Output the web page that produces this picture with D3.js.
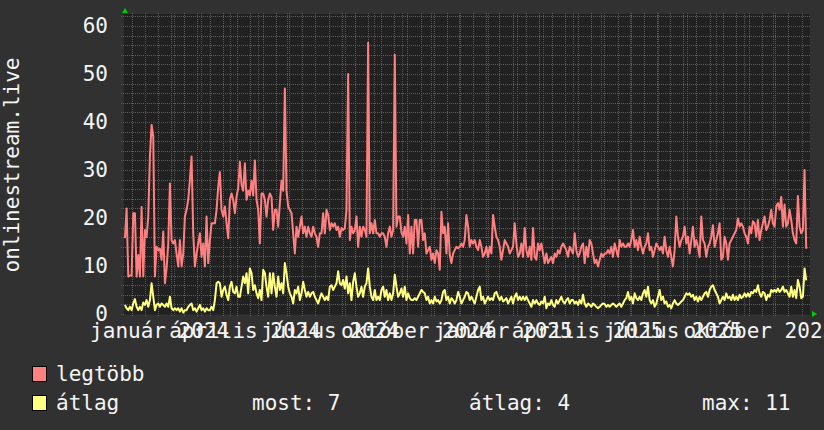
<!DOCTYPE html>
<meta charset="utf-8">
<style>
body { margin: 0; background: #313131; }
svg text { font-family: "DejaVu Sans Mono", monospace; fill: #f4f4f4; font-size: 21px; }
</style>
<body>
<script src="https://cdn.jsdelivr.net/npm/d3@7"></script>
<script>

var seriesNames = ["legtöbb", "átlag"];
var seriesColors = ["#ff8080", "#ffff80"];

// legtöbb (max), one value per step
var legtobb = [
  15.8, 22, 7.8, 8, 8, 21, 21, 7.8, 12.3, 7.8, 22.3, 7.8, 17.5, 16, 20.3, 32.8, 39.4, 37, 7.8,
  14, 13.3, 13.6, 11.3, 17.2, 6.4, 9.5, 14.6, 27.2, 15.4, 14.7, 15.4, 12.6, 9.9, 15.4, 9.9, 12.6, 20.3,
  21.7, 23.8, 27.9, 32.8, 16.8, 9.9, 12.6, 14.7, 16.8, 11.9, 14.7, 9.9, 20.3, 10.6, 15.4, 18.9,
  18.9, 18.9, 21.7, 26.5, 29.6, 21.7, 20.3, 22.4, 18.9, 15.8, 23.8, 25.1, 23.8, 21, 24.4, 26.3,
  31.7, 27, 25.7, 31.4, 23.8, 25.7, 24.7, 27.8, 24.7, 32, 23.8, 21.7, 14.7, 25.1, 25.1, 23.8,
  20.3, 23.8, 25.1, 24.4, 17.5, 21.7, 21.7, 18.2, 23.1, 27.8, 25.7, 47, 25.7, 22.4, 21.7, 21,
  16.8, 12.6, 18.2, 16.1, 18.2, 20.3, 16.8, 18.2, 16.1, 18.2, 16.8, 16.1, 18.2, 16.8, 16.1, 14,
  16.8, 16.8, 21, 16.8, 21.7, 20.6, 17.5, 18.9, 18.2, 18.9, 17.5, 18.2, 16.1, 17.9, 17.5, 17.9,
  21.7, 50, 15.4, 18.2, 16.8, 17.5, 20.3, 14, 18.2, 16.1, 18.2, 17.5, 16.1, 56.5, 16.8, 18.9,
  16.8, 19.6, 16.8, 16.8, 16.1, 16.8, 16.8, 16.1, 14, 16.8, 18.2, 16.1, 17.5, 54, 18.2, 20.3,
  20.3, 17, 16.1, 18.2, 14.7, 20.6, 12.6, 18.2, 12.6, 19.6, 19.6, 14, 19.6, 19.6, 15.4, 16.8,
  12.6, 13.3, 14, 11.3, 12.6, 10.6, 13.3, 12.6, 9.2, 21.3, 16.8, 18.2, 12.6, 18.9, 12.3, 10.6,
  12.6, 13.3, 14, 13.7, 14, 14.7, 14, 15.4, 20.6, 18.2, 14, 15.4, 14.7, 15.4, 14, 13.3, 15.4,
  14, 11.9, 12.6, 14, 11.9, 14, 12.6, 20.6, 18.2, 16.1, 15.4, 14, 11.3, 13.3, 15.4, 14.7, 14,
  12.6, 13.3, 14, 18.9, 14.7, 11.9, 12.6, 14.7, 11.9, 17.9, 13.3, 11.9, 14, 11.3, 17.9, 11.9,
  11.3, 14.7, 13.3, 14.7, 12.6, 10.6, 12.6, 10.6, 11.3, 11.9, 10.6, 12.6, 11.9, 13.3, 12.6, 14,
  14.7, 14, 13.3, 11.9, 14, 13.3, 12.6, 16.8, 13.3, 11.9, 12.6, 14, 14.7, 10.6, 14, 11.9, 15.4,
  14.7, 12.6, 10.6, 11.3, 9.9, 11.3, 12.6, 11.9, 12.6, 12.6, 13.3, 12.6, 14, 11.9, 14.7, 13.3,
  11.9, 15.4, 14, 14.7, 14, 14, 14.7, 14, 15.4, 17.5, 14, 15.4, 13.3, 16.1, 14, 12.6, 14, 14.7,
  16.8, 13.3, 14, 11.9, 13.3, 14.7, 14, 13.3, 14, 12.6, 16.1, 13.3, 11.9, 14, 11.9, 9.9, 13.3,
  20.3, 16.1, 14, 15.4, 16.1, 18.2, 14.7, 16.1, 12.6, 15.4, 18.2, 14, 15.4, 14, 11.9, 20.3,
  15.4, 14.7, 11.9, 14, 14.7, 16.1, 18.5, 14, 15.4, 16.8, 18.9, 11.3, 11.9, 16.1, 14.7, 11.3,
  14.7, 15.4, 16.1, 16.8, 17.5, 19.9, 18.2, 18.9, 18.2, 16.8, 16.1, 14.7, 18.2, 16.8, 19.3,
  18.9, 16.1, 19.6, 15.4, 17.5, 18.9, 20.3, 17.5, 18.2, 19.6, 21.7, 18.9, 18.2, 22.4, 23.1,
  21.7, 24.4, 18.2, 22.8, 18.2, 18.9, 21.7, 19.6, 16.8, 15.4, 14.7, 24.6, 18.2, 16.8, 17.5, 30, 13.6
];

// átlag (average), same steps
var atlag = [
  1.9, 1.2, 0.8, 1.5, 0.8, 2.2, 3.1, 1.5, 0.8, 1.5, 0.8, 2.4, 1.9, 2.9, 1.5, 2.9, 6.4, 3.6, 0.8,
  1.9, 2.2, 1.5, 2.2, 1.9, 1.5, 2.2, 1.5, 3.6, 1.2, 0.8, 1.2, 0.8, 1.2, 0.5, 1.2, 0.3, 0.8, 0.8,
  1.5, 1.9, 2.2, 0.8, 1.2, 0.5, 1.2, 1.9, 0.8, 1.2, 0.5, 1.2, 0.8, 0.8, 1.5, 0.8, 2.9, 6.4, 6.7,
  6.4, 3.6, 5, 5.7, 4, 2.9, 5.7, 6.7, 4.6, 4.3, 5.7, 3.6, 3.6, 5.7, 7.8, 6.4, 8.5, 4.3, 9.5, 8.5,
  5, 6, 4.3, 3.3, 5, 2.9, 9.2, 8.5, 5.7, 3.6, 8.5, 4.3, 8.5, 5.7, 3.6, 7.8, 5, 6.4, 4.3, 10.6,
  8.5, 5.7, 4.3, 3.6, 2.2, 5, 4.3, 5.7, 2.9, 4.3, 6.7, 5, 3.6, 4.6, 3.6, 4.3, 4.6, 3.6, 2.9, 2.2,
  3.3, 4.3, 3.6, 2.9, 3.6, 2.9, 5.7, 6, 5, 5.7, 6.4, 8.9, 6.4, 6, 7.1, 5.3, 7.8, 4.3, 6.4, 2.9,
  6.7, 8.5, 5.7, 3.6, 4.3, 5.7, 3.6, 5.7, 6.4, 9.5, 5.7, 3.6, 2.9, 5, 2.9, 3.6, 2.9, 5, 5.7, 3.6,
  5, 2.9, 4.3, 2.9, 4.3, 8.2, 5.7, 3.6,
  4.3, 5.3, 3.6, 5.7, 2.9, 4.3, 3.3, 2.9, 2.9, 3.3, 2.9, 3.6, 4.3, 5, 4.6, 4.3, 2.9, 3.6, 2.2,
  2.9, 2.2, 3.6, 2.6, 2.9, 2.2, 2.9, 4.6, 5, 2.9, 3.6, 2.2, 3.3, 2.9, 2.2, 2.9, 4.6, 3.6, 2.2,
  2.9, 3.6, 4.6, 4.3, 2.9, 3.6, 2.9, 2.2, 3.6, 5, 5.7, 2.9, 3.6, 2.2, 2.9, 3.6, 2.9, 3.3, 2.9,
  4.3, 4.6, 3.6, 2.9, 3.6, 2.6, 2.9, 3.3, 2.2, 2.9, 3.6, 2.2, 3.6, 4.3, 2.9, 3.6, 2.9, 3.6, 2.9,
  3.6, 2.9, 2.2, 1.5, 2.9, 2.2, 2.9, 2.2, 1.9, 2.6, 2.2, 3.6, 1.2, 2.2, 1.9, 2.9, 1.9, 1.5, 2.9,
  2.2, 2.9, 3.6, 2.6, 2.2, 2.9, 3.3, 2.2, 2.9, 2.9, 2.2, 2.6, 1.9, 2.9, 2.2, 4, 2.2, 1.5, 2.2,
  1.9, 1.5, 2.2, 1.9, 1.5, 1.2, 1.5, 1.9, 2.2, 2.1, 1.5, 1.9, 1.5, 1.9, 2.2, 1.9, 1.5, 1.9, 2.2,
  1.5, 2.2, 2.9, 3.3, 4.6, 2.9, 3.6, 2.2, 4.3, 3.3, 2.9, 3.6, 2.9, 4.3, 5, 3.6, 5.7, 2.9, 2.2,
  2.9, 1.5, 2.2, 3.6, 5, 2.9, 3.6, 2.2, 2.6, 1.5, 1.9, 1.2, 2.2, 2.9, 2.2, 1.9, 2.2, 2.6, 2.9,
  3.6, 4.3, 4, 4.3, 3.6, 4, 2.9, 3.6, 2.6, 3.6, 2.9, 3.6, 4.3, 4.6, 3.6, 5, 5.7, 6, 5, 4.3, 3.6,
  2.2, 2.9, 3.6, 2.9, 4.3, 3.3, 3.6, 2.9, 4, 2.9, 3.6, 2.9, 4, 3.3, 3.6, 4.3, 3.6, 4.3, 3.6,
  4.6, 4.3, 5, 4.6, 6, 4.3, 3.6, 4.6, 4.3, 2.9, 4, 3.6, 5, 4.6, 5, 4.6, 5.3, 4.6, 5, 5.7, 4.6,
  5, 4.3, 3.6, 5.7, 3.6, 5, 3.3, 7.1, 5.7, 3.3, 3.6, 9.5, 7
];

var yTicks = [0, 10, 20, 30, 40, 50, 60];
var xLabels = ["január 2024", "április 2024", "július 2024", "október 2024",
               "január 2025", "április 2025", "július 2025", "október 2025"];
var xLabelMonths = ["2024-01-01", "2024-04-01", "2024-07-01", "2024-10-01",
                    "2025-01-01", "2025-04-01", "2025-07-01", "2025-10-01"];
var legendStats = ["most: 7", "átlag: 4", "max: 11"];
var yTitle = "onlinestream.live";

var firstSample = Date.UTC(2023, 11, 11);
var stepMs = 42.6 * 3600 * 1000;

var width = 824, height = 430;
var plot = {left: 124, right: 810, top: 14, bottom: 314};

var svg = d3.select("body").append("svg")
    .attr("width", width)
    .attr("height", height);

svg.append("rect")
    .attr("width", width).attr("height", height)
    .attr("fill", "#313131");

var x = d3.scaleUtc()
    .domain([Date.UTC(2023, 11, 10), Date.UTC(2025, 11, 10)])
    .range([plot.left, plot.right]);

var y = d3.scaleLinear()
    .domain([0, 62.5])
    .range([plot.bottom, plot.top]);

svg.append("rect")
    .attr("x", plot.left).attr("y", plot.top)
    .attr("width", plot.right - plot.left)
    .attr("height", plot.bottom - plot.top)
    .attr("fill", "#212121");

// grid
var monday0 = Date.UTC(2024, 0, 1);
var minorX = d3.utcMonday.range(x.domain()[0], x.domain()[1]).filter(function(d) {
    return Math.round((d - monday0) / (7 * 864e5)) % 2 === 0;
});
var majorX = d3.utcMonth.range(x.domain()[0], x.domain()[1]);
var minorY = d3.range(0, 63, 2);
var majorY = yTicks;

var grid = svg.append("g").attr("shape-rendering", "crispEdges");

grid.selectAll(".mx").data(minorX).enter().append("line")
    .attr("x1", function(d) { return Math.round(x(d)) + 0.5; })
    .attr("x2", function(d) { return Math.round(x(d)) + 0.5; })
    .attr("y1", plot.top - 1).attr("y2", plot.bottom + 3)
    .attr("stroke", "#5c5c5c").attr("stroke-dasharray", "1,1");

grid.selectAll(".my").data(minorY).enter().append("line")
    .attr("x1", plot.left - 3).attr("x2", plot.right)
    .attr("y1", function(d) { return Math.round(y(d)) + 0.5; })
    .attr("y2", function(d) { return Math.round(y(d)) + 0.5; })
    .attr("stroke", "#5c5c5c").attr("stroke-dasharray", "1,1");

grid.selectAll(".Mx").data(majorX).enter().append("line")
    .attr("x1", function(d) { return Math.round(x(d)) + 0.5; })
    .attr("x2", function(d) { return Math.round(x(d)) + 0.5; })
    .attr("y1", plot.top - 1).attr("y2", plot.bottom + 3)
    .attr("stroke", "#8c3c3c").attr("stroke-dasharray", "1,1");

grid.selectAll(".My").data(majorY).enter().append("line")
    .attr("x1", plot.left - 3).attr("x2", plot.right)
    .attr("y1", function(d) { return Math.round(y(d)) + 0.5; })
    .attr("y2", function(d) { return Math.round(y(d)) + 0.5; })
    .attr("stroke", "#8c3c3c").attr("stroke-dasharray", "1,1");

// lines
function sampleDate(i) { return new Date(firstSample + i * stepMs); }

var line = d3.line()
    .x(function(d, i) { return x(sampleDate(i)); })
    .y(function(d) { return y(d); });

[legtobb, atlag].forEach(function(s, k) {
    svg.append("path")
        .datum(s)
        .attr("fill", "none")
        .attr("stroke", seriesColors[k])
        .attr("stroke-width", 2)
        .attr("stroke-linejoin", "round")
        .attr("d", line);
});

// axes
svg.append("line")
    .attr("x1", plot.left).attr("x2", plot.right + 2)
    .attr("y1", plot.bottom + 0.5).attr("y2", plot.bottom + 0.5)
    .attr("stroke", "#2a2a2a");
svg.append("path")
    .attr("d", "M" + (plot.right + 2) + "," + (plot.bottom - 3) + "l5,3l-5,3z")
    .attr("fill", "#00cc00");
svg.append("path")
    .attr("d", "M" + (plot.left - 2) + "," + (plot.top - 1) + "l3,-5l3,5z")
    .attr("fill", "#00cc00");

svg.selectAll(".ylab").data(yTicks).enter().append("text")
    .attr("x", 108)
    .attr("y", function(d) { return y(d); })
    .attr("dy", "0.35em")
    .attr("text-anchor", "end")
    .text(function(d) { return d; });

// labels sit about half a month after the tick, like rrdtool does
svg.selectAll(".xlab").data(xLabels).enter().append("text")
    .attr("x", function(d, i) { return x(d3.utcDay.offset(new Date(xLabelMonths[i]), 16)); })
    .attr("y", 338)
    .attr("text-anchor", "middle")
    .text(function(d) { return d; });

svg.append("text")
    .attr("transform", "translate(19," + 165 + ") rotate(-90)")
    .attr("text-anchor", "middle")
    .text(yTitle);

// legend
var legend = svg.append("g");
seriesNames.forEach(function(name, k) {
    legend.append("rect")
        .attr("x", 32.5).attr("y", 366.5 + k * 29)
        .attr("width", 14).attr("height", 15)
        .attr("fill", seriesColors[k])
        .attr("stroke", "#000");
    legend.append("text")
        .attr("x", 56).attr("y", 381 + k * 29)
        .text(name);
});
var statX = [252, 469, 702];
legendStats.forEach(function(t, i) {
    legend.append("text")
        .attr("x", statX[i]).attr("y", 410)
        .text(t);
});

</script>
